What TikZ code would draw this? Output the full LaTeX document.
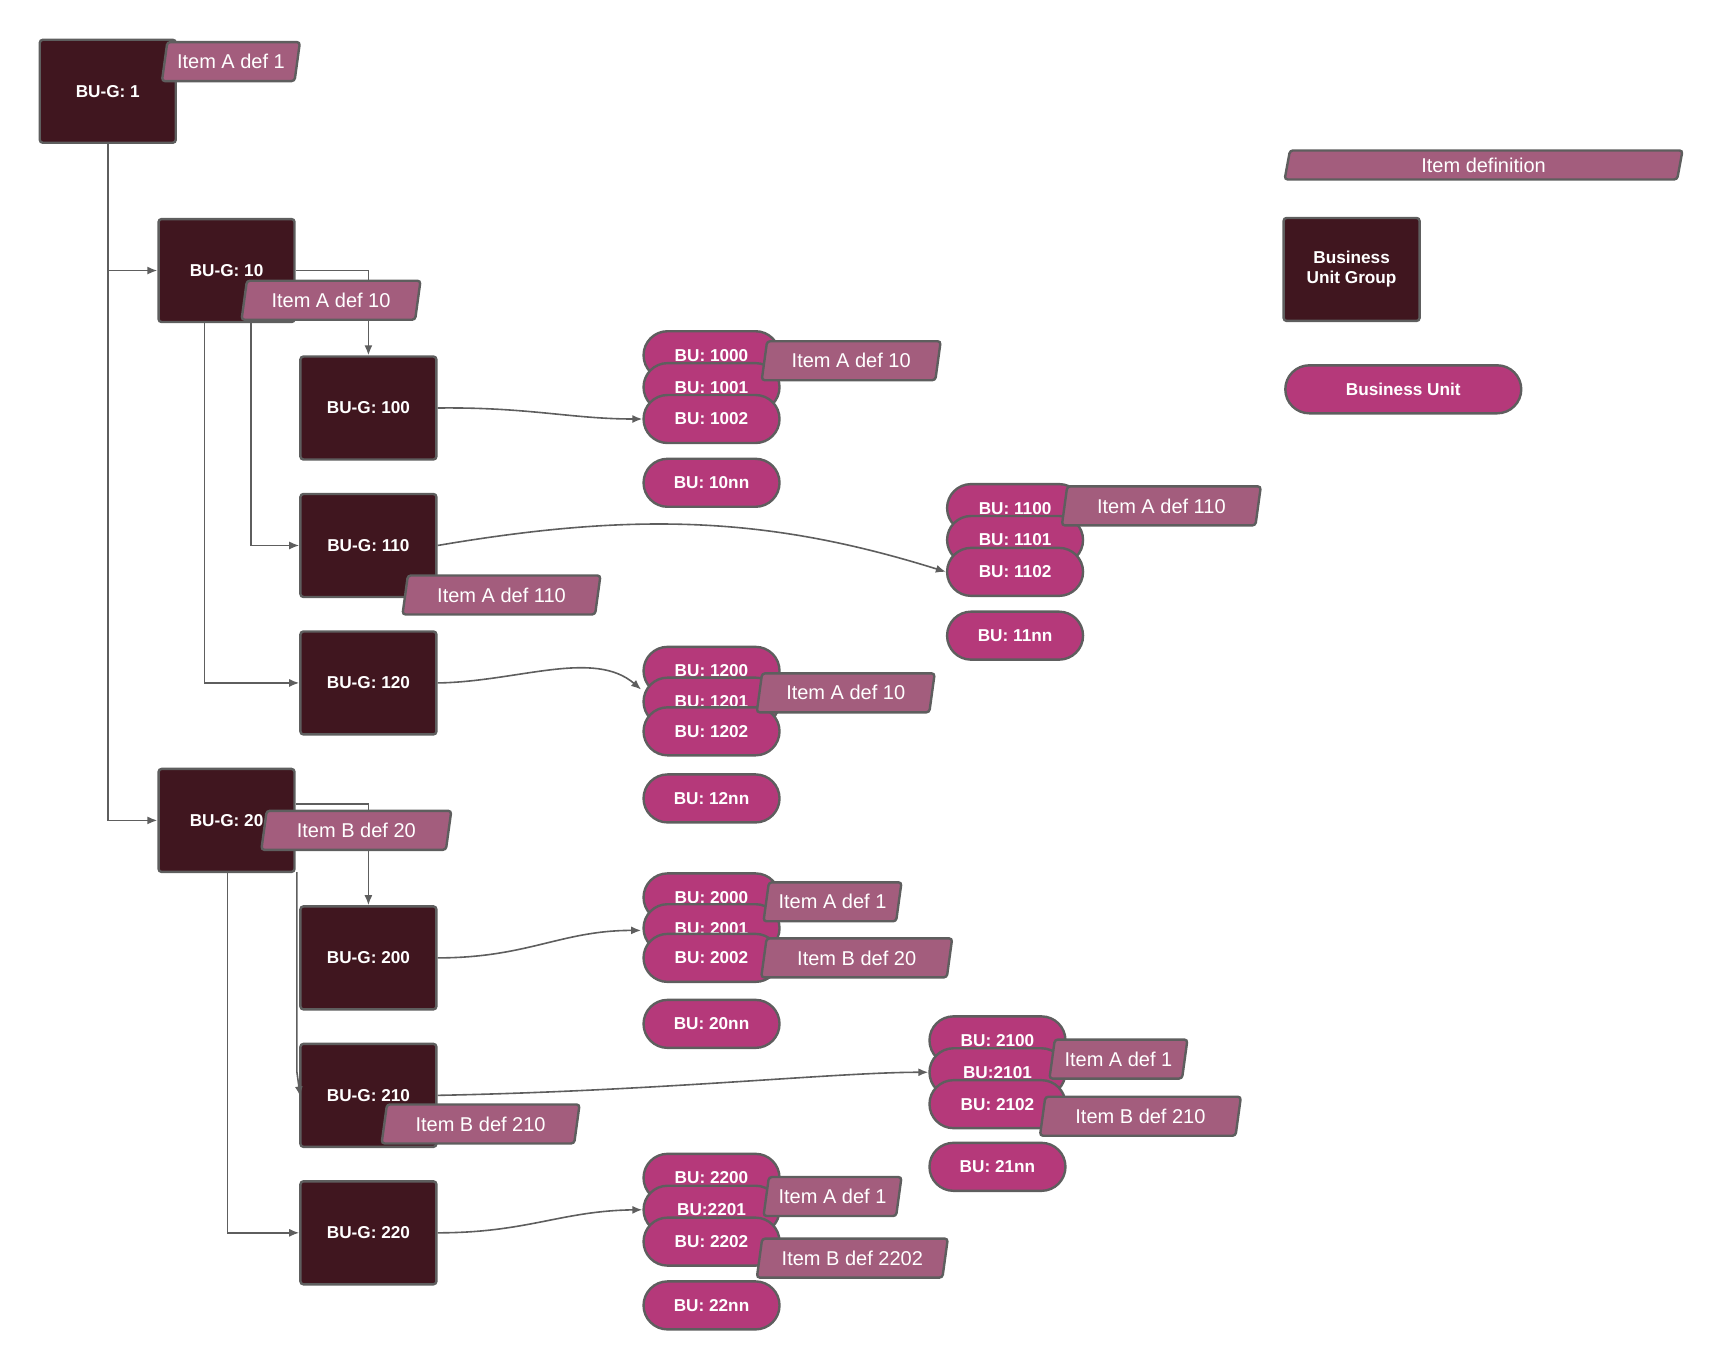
\documentclass[tikz,border=0pt]{standalone}
\usepackage{fontspec}
\setmainfont{Liberation Sans}
\usepackage{tikz}
\usetikzlibrary{shapes.geometric, shapes.misc, arrows.meta}

\definecolor{bugfill}{HTML}{40161F}
\definecolor{bufill}{HTML}{B5397A}
\definecolor{itemfill}{HTML}{A35D7D}
\definecolor{edgegray}{HTML}{5E5E5E}

\begin{document}
\begin{tikzpicture}[x=0.55pt, y=-0.55pt,
        bug/.style={draw=edgegray, line width=1.2pt, fill=bugfill, rounded corners=1.5pt,
            minimum width=68pt, minimum height=51.5pt, text=white, font=\bfseries\fontsize{8.6}{10}\selectfont, align=center},
        bu/.style={draw=edgegray, line width=1.2pt, fill=bufill, rounded rectangle,
            minimum width=70pt, minimum height=24pt, inner sep=1pt, text=white, font=\bfseries\fontsize{8.6}{10}\selectfont},
        itemdef/.style={draw=edgegray, line width=1.2pt, fill=itemfill, trapezium,
            trapezium left angle=74, trapezium right angle=106, trapezium stretches body=true,
            minimum height=19.5pt, inner sep=1pt, rounded corners=1.5pt, text=white, font=\fontsize{10}{12}\selectfont},
        link/.style={draw=edgegray, line width=0.8pt, -{Latex[length=5pt,width=4pt]}}]
        \useasboundingbox (0,0) rectangle (1564,1243);
        % group boxes
        \node [bug] (g1) at (98,83) {BU-G: 1};
        \node [bug] (g10) at (206,246) {BU-G: 10};
        \node [bug] (g100) at (335,371) {BU-G: 100};
        \node [bug] (g110) at (335,496) {BU-G: 110};
        \node [bug] (g120) at (335,621) {BU-G: 120};
        \node [bug] (g20) at (206,746) {BU-G: 20};
        \node [bug] (g200) at (335,871) {BU-G: 200};
        \node [bug] (g210) at (335,996) {BU-G: 210};
        \node [bug] (g220) at (335,1121) {BU-G: 220};
        % tree links
        \draw [link] (g1.south) |- (g10.west);
        \draw [link] (g1.south) |- (g20.west);
        \draw [link] (g10.east |- 0,246) -| (g100.north);
        \draw [link] (228,292) |- (g110.west);
        \draw [link] (186,292) |- (g120.west);
        \draw [link] (g20.east |- 0,731) -| (g200.north);
        \draw [link] (270,793) -- (270,975) -- (273,997);
        \draw [link] (207,793) |- (g220.west);
        % business units
        \node [bu] (u1000) at (647,323) {BU: 1000};
        \node [bu] (u1001) at (647,352) {BU: 1001};
        \node [bu] (u1002) at (647,381) {BU: 1002};
        \node [bu] (u10nn) at (647,439) {BU: 10nn};
        \node [bu] (u1100) at (923,462) {BU: 1100};
        \node [bu] (u1101) at (923,491) {BU: 1101};
        \node [bu] (u1102) at (923,520) {BU: 1102};
        \node [bu] (u11nn) at (923,578) {BU: 11nn};
        \node [bu] (u1200) at (647,610) {BU: 1200};
        \node [bu] (u1201) at (647,638) {BU: 1201};
        \node [bu] (u1202) at (647,665) {BU: 1202};
        \node [bu] (u12nn) at (647,726) {BU: 12nn};
        \node [bu] (u2000) at (647,816) {BU: 2000};
        \node [bu] (u2001) at (647,844) {BU: 2001};
        \node [bu] (u2002) at (647,871) {BU: 2002};
        \node [bu] (u20nn) at (647,931) {BU: 20nn};
        \node [bu] (u2100) at (907,946) {BU: 2100};
        \node [bu] (u2101) at (907,975) {BU:2101};
        \node [bu] (u2102) at (907,1004) {BU: 2102};
        \node [bu] (u21nn) at (907,1061) {BU: 21nn};
        \node [bu] (u2200) at (647,1071) {BU: 2200};
        \node [bu] (u2201) at (647,1100) {BU:2201};
        \node [bu] (u2202) at (647,1129) {BU: 2202};
        \node [bu] (u22nn) at (647,1187) {BU: 22nn};
        % group to unit links
        \draw [link] (g100.east) .. controls (480,370) and (520,381) .. (u1002.west);
        \draw [link] (g110.east) .. controls (580,465) and (700,470) .. (u1102.west);
        \draw [link] (g120.east) .. controls (470,620) and (540,590) .. (583,627);
        \draw [link] (g200.east) .. controls (480,871) and (510,846) .. (583,846);
        \draw [link] (g210.east) .. controls (600,992) and (760,975) .. (u2101.west);
        \draw [link] (g220.east) .. controls (480,1121) and (510,1101) .. (u2201.west);
        % item definitions
        \node [itemdef, minimum width=69pt] (i1) at (210,56) {Item A def 1};
        \node [itemdef, minimum width=89.5pt] (i10) at (301,273) {Item A def 10};
        \node [itemdef, minimum width=99pt] (i110) at (456,541) {Item A def 110};
        \node [itemdef, minimum width=95pt] (i20) at (324,755) {Item B def 20};
        \node [itemdef, minimum width=99pt] (i210) at (437,1022) {Item B def 210};
        \node [itemdef, minimum width=89.5pt] (i1000) at (774,328) {Item A def 10};
        \node [itemdef, minimum width=99.5pt] (i1100) at (1056,460) {Item A def 110};
        \node [itemdef, minimum width=89pt] (i1200) at (769,630) {Item A def 10};
        \node [itemdef, minimum width=69pt] (i2000) at (757,820) {Item A def 1};
        \node [itemdef, minimum width=95.5pt] (i2002) at (779,871) {Item B def 20};
        \node [itemdef, minimum width=69pt] (i2101) at (1017,963) {Item A def 1};
        \node [itemdef, minimum width=100.5pt] (i2102) at (1037,1015) {Item B def 210};
        \node [itemdef, minimum width=69pt] (i2201) at (757,1088) {Item A def 1};
        \node [itemdef, minimum width=95.5pt] (i2202) at (775,1144) {Item B def 2202};
        % legend
        \node [itemdef, minimum width=199pt, minimum height=14.5pt] (legitem) at (1349,150) {Item definition};
        \node [bug] (legbug) at (1229,245) {Business\\Unit Group};
        \node [bu, minimum width=120pt] (legbu) at (1276,354) {Business Unit};
\end{tikzpicture}
\end{document}
